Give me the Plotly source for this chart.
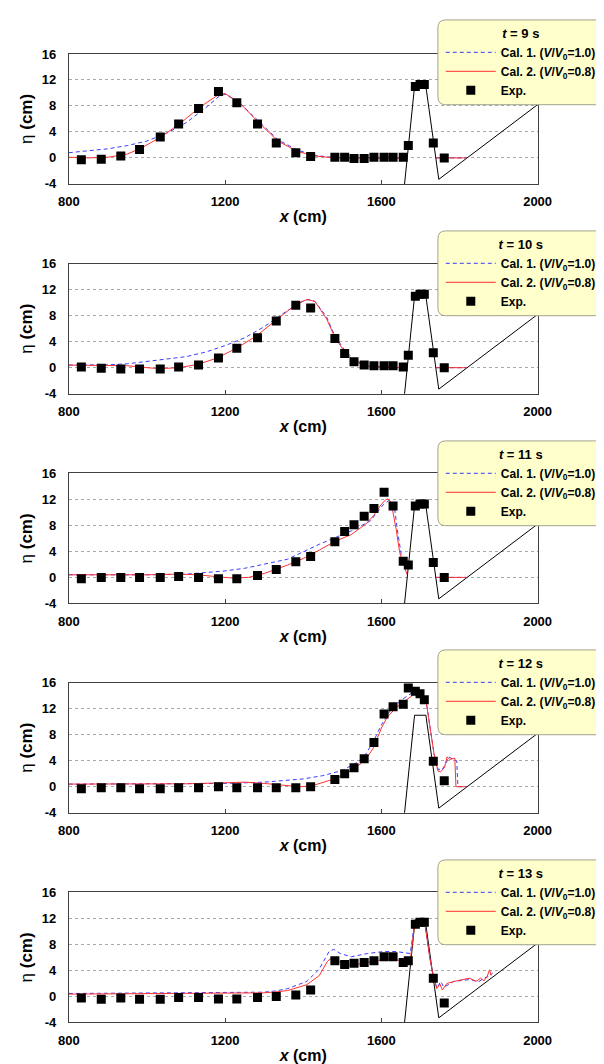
import plotly.graph_objects as go

W, H = 604, 1064
FONT = "Arial, Liberation Sans, sans-serif"

times = [9, 10, 11, 12, 13]

# experiment gauge positions (cm)
exp_x = [832, 883, 933, 981, 1034, 1081, 1132, 1183, 1230, 1283, 1331, 1381, 1419,
         1481, 1506, 1530, 1556, 1581, 1607, 1630, 1656, 1669, 1687, 1699, 1710, 1733, 1761]

exp_y_9 = [-0.3, -0.2, 0.3, 1.3, 3.2, 5.2, 7.6, 10.2, 8.5, 5.2, 2.3, 0.8, 0.2,
           0.1, 0.1, -0.1, -0.1, 0.1, 0.1, 0.1, 0.1, 1.9, 11.0, 11.3, 11.3, 2.3, 0.0]
exp_y_10 = [0.1, -0.1, -0.2, -0.2, -0.2, 0.1, 0.4, 1.5, 3.0, 4.6, 7.2, 9.6, 9.2,
            4.5, 2.2, 0.9, 0.4, 0.3, 0.3, 0.3, 0.1, 1.9, 11.0, 11.3, 11.3, 2.3, 0.0]
exp_y_11 = [-0.2, 0.0, 0.0, 0.0, 0.0, 0.15, 0.0, -0.2, -0.2, 0.3, 1.2, 2.4, 3.2,
            5.5, 7.05, 8.1, 9.4, 10.6, 13.1, 11.0, 2.5, 1.9, 11.0, 11.3, 11.3, 2.3, 0.0]
exp_y_12 = [-0.3, -0.15, -0.15, -0.3, -0.3, -0.15, -0.15, 0.0, -0.15, -0.15, -0.15, -0.15, 0.0,
            1.1, 2.0, 2.9, 4.3, 6.8, 11.2, 12.3, 12.7, 15.2, 14.7, 14.3, 13.4, 3.9, 0.9]
exp_y_13 = [-0.25, -0.45, -0.25, -0.45, -0.45, -0.15, -0.15, -0.4, -0.4, -0.15, 0.0, 0.2, 1.0,
            5.5, 4.9, 5.1, 5.2, 5.5, 6.1, 6.1, 5.2, 5.5, 11.1, 11.4, 11.4, 2.8, -1.0]

# Cal. 1 (V/V0 = 1.0)
cal1_x_9 = [800, 850, 900, 950, 1000, 1050, 1100, 1150, 1185, 1200, 1235, 1285, 1335, 1385, 1430, 1470, 1520, 1600, 1659,
            None, 1740, 1818]
cal1_y_9 = [0.8, 1.1, 1.4, 1.9, 2.6, 3.8, 5.4, 7.7, 9.5, 9.8, 8.6, 5.7, 2.8, 1.2, 0.4, 0.1, 0.0, 0.0, 0.0,
            None, 0.0, 0.0]
# Cal. 2 (V/V0 = 0.8)
cal2_x_9 = [800, 850, 900, 950, 985, 1035, 1085, 1135, 1185, 1200, 1235, 1285, 1335, 1385, 1430, 1470, 1520, 1600, 1659,
            None, 1740, 1818]
cal2_y_9 = [0.1, 0.0, 0.1, 0.6, 1.5, 3.2, 5.3, 7.8, 9.8, 9.9, 8.6, 5.5, 2.6, 1.0, 0.3, 0.05, 0.0, 0.0, 0.0,
            None, 0.0, 0.0]

cal1_x_10 = [800, 900, 950, 1000, 1050, 1100, 1150, 1200, 1250, 1300, 1350, 1400, 1415, 1430, 1460, 1480, 1505, 1530,
             1560, 1600, 1659, None, 1740, 1818]
cal1_y_10 = [0.4, 0.45, 0.6, 0.95, 1.3, 1.7, 2.4, 3.4, 4.6, 6.3, 8.4, 10.3, 10.5, 10.2, 7.8, 5.0, 2.8, 1.2,
             0.4, 0.1, 0.0, None, 0.0, 0.0]
cal2_x_10 = [800, 850, 900, 950, 1000, 1032, 1081, 1130, 1180, 1229, 1278, 1327, 1376, 1409, 1430, 1460, 1480, 1505, 1530,
             1560, 1600, 1659, None, 1740, 1818]
cal2_y_10 = [0.4, 0.4, 0.4, 0.3, 0.0, -0.15, 0.0, 0.5, 1.5, 3.0, 4.8, 7.1, 9.5, 10.5, 10.2, 7.5, 4.8, 2.5, 1.0,
             0.3, 0.05, 0.0, None, 0.0, 0.0]

cal1_x_11 = [800, 900, 1000, 1100, 1150, 1200, 1250, 1300, 1360, 1441, 1523, 1572, 1605, 1621, 1634, 1642, 1652, 1666,
             None, 1740, 1818]
cal1_y_11 = [0.4, 0.35, 0.4, 0.5, 0.7, 1.0, 1.4, 2.0, 2.8, 5.1, 7.15, 8.7, 11.2, 11.9, 10.5, 6.9, 3.1, 1.3,
             None, 0.0, 0.0]
cal2_x_11 = [800, 900, 1000, 1080, 1130, 1180, 1220, 1260, 1300, 1360, 1400, 1441, 1480, 1523, 1560, 1580, 1597, 1610,
             1617, 1625, 1638, 1647, 1658, 1666, None, 1740, 1818]
cal2_y_11 = [0.4, 0.35, 0.4, 0.5, 0.4, 0.1, -0.1, 0.0, 0.6, 1.9, 2.9, 4.2, 5.5, 6.6, 8.2, 9.5, 11.0, 11.9,
             12.1, 11.5, 7.4, 3.8, 1.8, 0.4, None, 0.0, 0.0]

cal1_x_12 = [800, 1000, 1100, 1200, 1300, 1350, 1400, 1450, 1500, 1540, 1560, 1580, 1600, 1620, 1650, 1680, 1690,
             1705, 1715, 1725, 1735, 1745, 1755, 1765, 1772, 1785, 1793, 1796, 1818]
cal1_y_12 = [0.4, 0.45, 0.45, 0.5, 0.7, 0.9, 1.2, 1.7, 2.5, 3.8, 5.0, 7.0, 9.5, 11.5, 13.3, 14.5, 14.8,
             14.4, 13.0, 9.0, 5.0, 2.7, 2.6, 3.5, 4.6, 4.2, 4.0, 0.0, 0.0]
cal2_x_12 = [800, 900, 1000, 1100, 1200, 1250, 1300, 1350, 1390, 1420, 1450, 1480, 1510, 1540, 1560, 1580, 1600, 1615,
             1640, 1660, 1690, 1705, 1715, 1725, 1735, 1745, 1752, 1762, 1768, 1775, 1788, 1791, 1818]
cal2_y_12 = [0.4, 0.4, 0.45, 0.45, 0.6, 0.7, 0.5, 0.2, 0.0, 0.1, 0.6, 1.2, 2.0, 3.2, 4.2, 6.0, 9.0, 10.7,
             12.3, 13.2, 14.5, 14.2, 13.0, 9.0, 5.0, 2.4, 2.3, 3.0, 4.6, 4.2, 4.4, 0.0, 0.0]

cal1_x_13 = [800, 1000, 1200, 1300, 1330, 1360, 1409, 1441, 1466, 1478, 1495, 1523, 1564, 1605, 1638, 1674, 1683, 1687,
             1707, 1713, 1724, 1734, 1742, 1752, 1760, 1785, 1826, 1850, 1863, 1875, 1885]
cal1_y_13 = [0.45, 0.5, 0.6, 0.65, 0.85, 1.2, 2.3, 4.2, 6.9, 7.25, 6.6, 6.1, 6.6, 6.9, 6.9, 6.6, 10.5, 11.9,
             11.9, 10.5, 5.9, 3.0, 1.3, 2.3, 1.4, 2.3, 2.6, 2.3, 2.8, 3.1, 3.6]
cal2_x_13 = [800, 1000, 1200, 1300, 1330, 1360, 1409, 1441, 1462, 1474, 1490, 1511, 1535, 1564, 1597, 1630, 1654, 1674,
             1683, 1687, 1707, 1713, 1724, 1734, 1742, 1750, 1756, 1768, 1793, 1826, 1842, 1854, 1863, 1871, 1877, 1881]
cal2_y_13 = [0.35, 0.4, 0.45, 0.55, 0.7, 0.9, 1.8, 3.2, 5.4, 6.0, 5.4, 4.8, 4.9, 5.2, 5.6, 5.8, 5.4, 5.5,
             10.5, 11.9, 11.9, 10.5, 5.9, 2.8, 1.2, 1.9, 1.0, 2.0, 2.4, 2.8, 2.3, 2.8, 2.4, 3.1, 4.1, 3.2]

# breakwater / slope profile (cm)
bed_x = [1656, 1685, 1714, 1747, 2000]
bed_y = [-6, 11, 11, -3.3, 8.2]

x_ticks = [800, 1200, 1600, 2000]
y_ticks = [-4, 0, 4, 8, 12, 16]

exp_ys = [exp_y_9, exp_y_10, exp_y_11, exp_y_12, exp_y_13]
cal1 = [(cal1_x_9, cal1_y_9), (cal1_x_10, cal1_y_10), (cal1_x_11, cal1_y_11), (cal1_x_12, cal1_y_12), (cal1_x_13, cal1_y_13)]
cal2 = [(cal2_x_9, cal2_y_9), (cal2_x_10, cal2_y_10), (cal2_x_11, cal2_y_11), (cal2_x_12, cal2_y_12), (cal2_x_13, cal2_y_13)]

# layout geometry in pixels
plot_left, plot_right = 52, 541
panel_tops = [39.5, 252.3, 465, 677.3, 890]
panel_h = 131.8
legend_tops = [5, 219, 432, 644, 857]
legend_h = 86

def py(p):
    return 1 - p / H

def px(p):
    return p / W

fig = go.Figure()
layout = dict(width=W, height=H, margin=dict(l=0, r=0, t=0, b=0),
              paper_bgcolor="white", plot_bgcolor="white",
              font=dict(family=FONT, size=12, color="black"), showlegend=True)
shapes = []

for i, t in enumerate(times):
    n = "" if i == 0 else str(i + 1)
    xa, ya = "x" + n, "y" + n
    leg = "legend" + n
    fig.add_trace(go.Scatter(x=bed_x, y=bed_y, mode="lines", line=dict(color="black", width=1),
                             xaxis=xa, yaxis=ya, showlegend=False, hoverinfo="skip"))
    fig.add_trace(go.Scatter(x=cal1[i][0], y=cal1[i][1], mode="lines", connectgaps=False,
                             line=dict(color="#3B3BFF", width=1, dash="4px,3px"),
                             name="<b>Cal. 1. (<i>V</i>/<i>V</i><sub>0</sub>=1.0)</b>",
                             xaxis=xa, yaxis=ya, legend=leg))
    fig.add_trace(go.Scatter(x=cal2[i][0], y=cal2[i][1], mode="lines", connectgaps=False,
                             line=dict(color="#FF3030", width=1),
                             name="<b>Cal. 2. (<i>V</i>/<i>V</i><sub>0</sub>=0.8)</b>",
                             xaxis=xa, yaxis=ya, legend=leg))
    fig.add_trace(go.Scatter(x=exp_x, y=exp_ys[i], mode="markers",
                             marker=dict(symbol="square", size=9, color="black"),
                             name="<b>Exp.</b>", xaxis=xa, yaxis=ya, legend=leg))

    top = panel_tops[i]
    bot = top + panel_h
    layout["xaxis" + n] = dict(domain=[px(plot_left), px(plot_right)], range=[800, 2000], anchor=ya,
                               tickvals=x_ticks, ticktext=["<b>%d</b>" % v for v in x_ticks],
                               showgrid=False, zeroline=False, showline=True, mirror=True,
                               linecolor="#404040", linewidth=1,
                               ticks="inside", ticklen=4, tickcolor="#404040", tickwidth=1,
                               ticklabelstandoff=6,
                               tickfont=dict(size=13),
                               title=dict(text="<b><i>x</i> (cm)</b>", font=dict(size=16), standoff=2))
    layout["yaxis" + n] = dict(domain=[py(bot), py(top)], range=[-4, 16], anchor=xa,
                               tickvals=y_ticks, ticktext=["<b>%d</b>" % v for v in y_ticks],
                               showgrid=True, gridcolor="#A8A8A8", griddash="3px,3px", gridwidth=1,
                               zeroline=False, showline=True, mirror=True,
                               linecolor="#404040", linewidth=1,
                               ticks="", ticklabelstandoff=9,
                               tickfont=dict(size=13),
                               title=dict(text="η <b>(cm)</b>", font=dict(size=17), standoff=4))
    lt = legend_tops[i]
    layout[leg] = dict(x=px(440), y=py(lt + 1), xanchor="left", yanchor="top",
                       bgcolor="rgba(0,0,0,0)", borderwidth=0,
                       font=dict(size=12, family=FONT),
                       title=dict(text="<b><i>t</i> = %d s</b>" % t, side="top center",
                                  font=dict(size=13, family=FONT)),
                       itemwidth=50, tracegroupgap=0)
    # rounded legend box
    x0, x1 = 437, 612
    y0, y1 = lt, lt + legend_h
    r = 8
    path = (f"M{px(x0 + r)},{py(y0)} L{px(x1)},{py(y0)} L{px(x1)},{py(y1)} L{px(x0 + r)},{py(y1)} "
            f"Q{px(x0)},{py(y1)} {px(x0)},{py(y1 - r)} L{px(x0)},{py(y0 + r)} "
            f"Q{px(x0)},{py(y0)} {px(x0 + r)},{py(y0)} Z")
    shapes.append(dict(type="path", path=path, xref="paper", yref="paper",
                       fillcolor="#FFFFCC", line=dict(color="#A3A38C", width=1), layer="above"))

layout["shapes"] = shapes
fig.update_layout(**layout)
fig.write_html("out.html")
